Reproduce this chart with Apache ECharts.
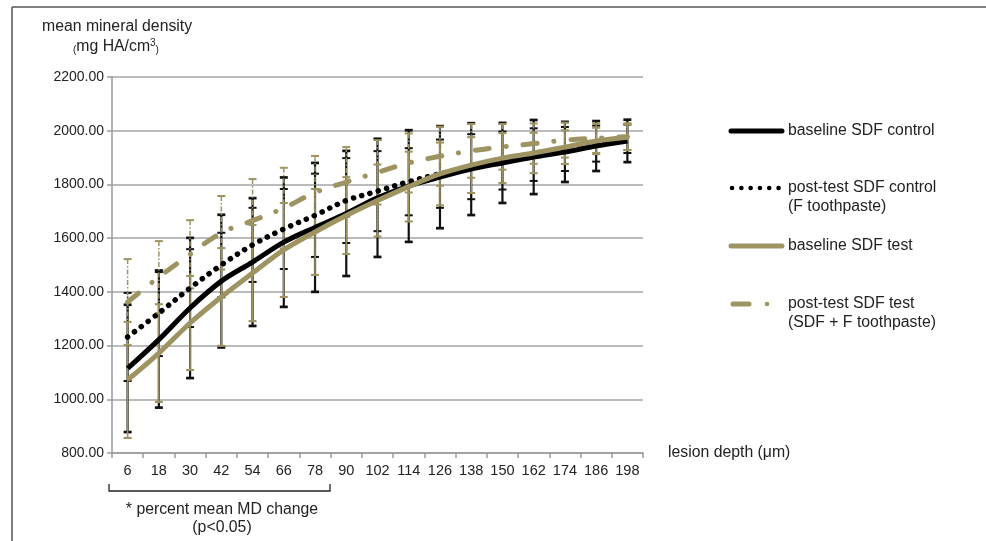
<!DOCTYPE html>
<html><head><meta charset="utf-8">
<script src="https://cdn.jsdelivr.net/npm/echarts@6/dist/echarts.min.js"></script>
<style>html,body{margin:0;padding:0;background:#fff}#c{width:986px;height:541px}</style>
</head><body><div id="c"></div>
<script>
const categories = [6,18,30,42,54,66,78,90,102,114,126,138,150,162,174,186,198];
const yTicks = [800,1000,1200,1400,1600,1800,2000,2200];
const baselineControl = [1115,1222,1340,1440,1511,1585,1640,1692,1750,1794,1827,1857,1880,1902,1921,1943,1962];
const baselineControlSD = [237,253,261,247,238,241,240,233,220,208,190,171,149,138,112,93,79];
const postControl = [1232,1321,1414,1500,1575,1634,1685,1740,1775,1810,1840,1866,1889,1911,1932,1952,1970];
const postControlSD = [164,160,145,120,138,149,155,158,149,125,127,121,108,98,82,67,53];
const baselineTest = [1072,1172,1284,1381,1470,1556,1623,1684,1740,1792,1839,1872,1898,1917,1939,1962,1976];
const baselineTestSD = [216,182,175,182,179,175,160,143,134,130,117,104,93,75,63,49,48];
const postTest = [1362,1455,1540,1620,1665,1712,1770,1809,1845,1880,1905,1925,1940,1952,1965,1972,1978];
const postTestSD = [160,134,127,137,155,150,136,130,120,110,110,100,85,75,65,55,50];

const GOLD = '#9d9462';
const FONT = '"Liberation Sans", Arial, sans-serif';
const TF = '15.8px ' + FONT;

function errSeries(name, mean, sd, color, width, dash, z){
  return {
    type:'custom', name:name, z:z, silent:true,
    data: mean.map((m,i)=>[i,m,sd[i]]),
    renderItem:function(params, api){
      const i = api.value(0), m = api.value(1), s = api.value(2);
      const t = api.coord([i, m+s]), b = api.coord([i, m-s]);
      const hw = 4;
      const st = {stroke:color, lineWidth:width, lineDash:dash||null};
      const cst = {stroke:color, lineWidth:width+0.5};
      return {type:'group', children:[
        {type:'line', shape:{x1:t[0],y1:t[1],x2:b[0],y2:b[1]}, style:st},
        {type:'line', shape:{x1:t[0]-hw,y1:t[1],x2:t[0]+hw,y2:t[1]}, style:cst},
        {type:'line', shape:{x1:b[0]-hw,y1:b[1],x2:b[0]+hw,y2:b[1]}, style:cst}
      ]};
    }
  };
}

const chart = echarts.init(document.getElementById('c'));
const legX = 731, txtX = 788;
chart.setOption({
  animation:false,
  grid:{left:112, top:77, width:531, height:376},
  xAxis:{type:'category', data:categories.map(String), boundaryGap:true,
    axisLine:{lineStyle:{color:'#9a9a9a', width:1.5}},
    axisTick:{show:true, alignWithLabel:false, length:5, lineStyle:{color:'#9a9a9a', width:1.5}},
    axisLabel:{color:'#222', fontSize:14.5, fontFamily:FONT, margin:10, interval:0},
    splitLine:{show:false}},
  yAxis:{type:'value', min:800, max:2200, interval:200,
    axisLine:{show:true, lineStyle:{color:'#9a9a9a', width:1.5}},
    axisTick:{show:true, length:5, lineStyle:{color:'#9a9a9a', width:1.5}},
    axisLabel:{color:'#222', fontSize:14, fontFamily:FONT, margin:8,
      formatter:v=>yTicks.includes(v)?v.toFixed(2):''},
    splitLine:{show:true, lineStyle:{color:'#a5a5a5', width:1.5}}},
  series:[
    errSeries('e1', baselineControl, baselineControlSD, '#111', 2.2, null, 2),
    errSeries('e2', postControl, postControlSD, '#111', 1.5, [1.5,2], 2),
    errSeries('e3', baselineTest, baselineTestSD, GOLD, 1.6, null, 3),
    errSeries('e4', postTest, postTestSD, GOLD, 1.5, [5,2,1.5,2], 3),
    {type:'line', name:'baseline SDF control', data:baselineControl, smooth:0.35, symbol:'none', z:5,
      lineStyle:{color:'#000', width:5}},
    {type:'line', name:'post-test SDF control', data:postControl, smooth:0.35, symbol:'none', z:6,
      lineStyle:{color:'#000', width:5.5, type:[0.1,8.5], cap:'round'}},
    {type:'line', name:'baseline SDF test', data:baselineTest, smooth:0.35, symbol:'none', z:7,
      lineStyle:{color:GOLD, width:5}},
    {type:'line', name:'post-test SDF test', data:postTest, smooth:0.35, symbol:'none', z:8,
      lineStyle:{color:GOLD, width:5, type:[14,17,0.1,17], cap:'round'}}
  ],
  graphic:[
    {type:'line', shape:{x1:12,y1:7,x2:986,y2:7}, style:{stroke:'#555', lineWidth:1.5}},
    {type:'line', shape:{x1:12,y1:7,x2:12,y2:541}, style:{stroke:'#555', lineWidth:1.5}},
    {type:'text', x:42, y:27, style:{text:'mean mineral density', font:TF, fill:'#222', textVerticalAlign:'middle'}},
    {type:'text', x:73, y:47, style:{text:'{p|(}mg HA/cm{s|3}{p|)}', font:TF, fill:'#222', textVerticalAlign:'middle',
      rich:{p:{fontSize:10, fontFamily:FONT, fill:'#222', verticalAlign:'bottom'}, s:{fontSize:10, fontFamily:FONT, verticalAlign:'top', padding:[0,0,7,0]}}}},
    {type:'text', x:668, y:453, style:{text:'lesion depth (μm)', font:TF, fill:'#222', textVerticalAlign:'middle'}},
    {type:'polyline', shape:{points:[[109,484],[109,491],[330,491],[330,484]]}, style:{stroke:'#222', lineWidth:1.3, fill:null}},
    {type:'text', x:222, y:510, style:{text:'* percent mean MD change', font:TF, fill:'#222', textAlign:'center', textVerticalAlign:'middle'}},
    {type:'text', x:222, y:528, style:{text:'(p<0.05)', font:TF, fill:'#222', textAlign:'center', textVerticalAlign:'middle'}},
    {type:'line', shape:{x1:legX,y1:131,x2:782,y2:131}, style:{stroke:'#000', lineWidth:5, lineCap:'round'}},
    {type:'text', x:txtX, y:131, style:{text:'baseline SDF control', font:TF, fill:'#222', textVerticalAlign:'middle'}},
    {type:'line', shape:{x1:732,y1:188,x2:782,y2:188}, style:{stroke:'#000', lineWidth:4.5, lineCap:'round', lineDash:[0.1,9.2]}},
    {type:'text', x:txtX, y:188, style:{text:'post-test SDF control', font:TF, fill:'#222', textVerticalAlign:'middle'}},
    {type:'text', x:txtX, y:207, style:{text:'(F toothpaste)', font:TF, fill:'#222', textVerticalAlign:'middle'}},
    {type:'line', shape:{x1:legX,y1:246,x2:782,y2:246}, style:{stroke:GOLD, lineWidth:5, lineCap:'round'}},
    {type:'text', x:txtX, y:246, style:{text:'baseline SDF test', font:TF, fill:'#222', textVerticalAlign:'middle'}},
    {type:'line', shape:{x1:733,y1:304,x2:749,y2:304}, style:{stroke:GOLD, lineWidth:5, lineCap:'round'}},
    {type:'circle', shape:{cx:767,cy:304,r:2.3}, style:{fill:GOLD}},
    {type:'text', x:txtX, y:304, style:{text:'post-test SDF test', font:TF, fill:'#222', textVerticalAlign:'middle'}},
    {type:'text', x:txtX, y:323, style:{text:'(SDF + F toothpaste)', font:TF, fill:'#222', textVerticalAlign:'middle'}}
  ]
});
</script></body></html>
